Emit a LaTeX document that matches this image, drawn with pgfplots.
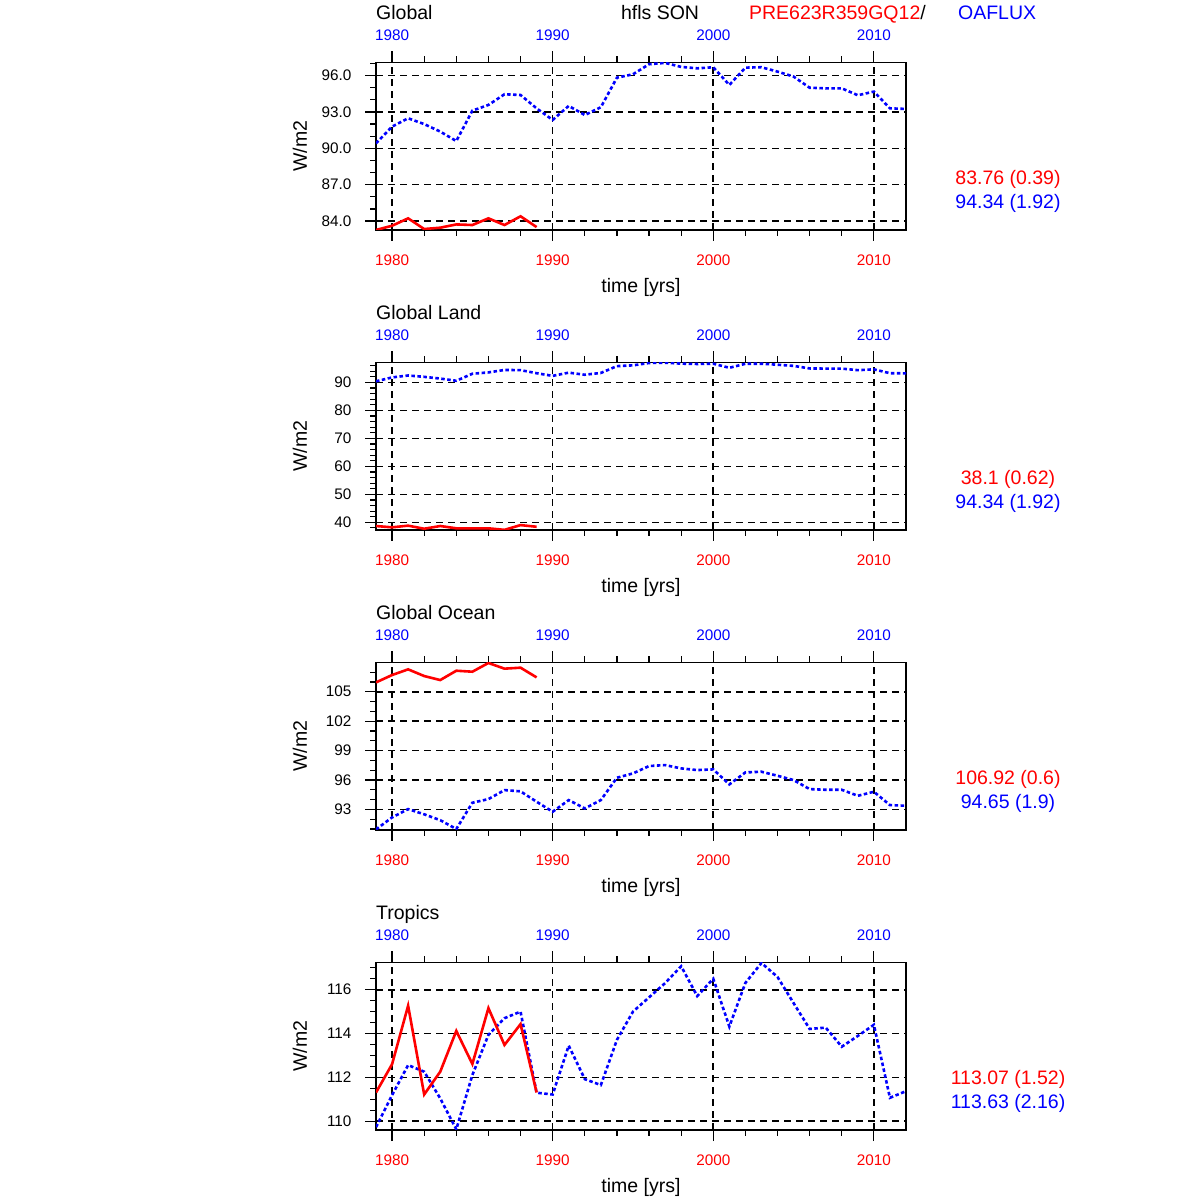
\documentclass[border=0pt]{standalone}
\usepackage{fontspec}
\setmainfont{Liberation Sans}
\usepackage{pgfplots}
\usepackage{pgfplotstable}
\pgfplotsset{compat=1.18}

% OAFLUX, global (also used for global land)
\pgfplotstableread{
yr val
1979 90.41
1980 91.79
1981 92.48
1982 92.00
1983 91.38
1984 90.60
1985 93.11
1986 93.58
1987 94.46
1988 94.40
1989 93.30
1990 92.34
1991 93.50
1992 92.75
1993 93.39
1994 95.83
1995 96.11
1996 96.94
1997 97.05
1998 96.72
1999 96.60
2000 96.69
2001 95.23
2002 96.66
2003 96.69
2004 96.33
2005 95.92
2006 95.00
2007 94.95
2008 94.95
2009 94.38
2010 94.68
2011 93.30
2012 93.25
}\oafGlobal

\pgfplotstableread{
yr val
1979 90.96
1980 92.18
1981 93.03
1982 92.50
1983 91.90
1984 91.00
1985 93.68
1986 94.05
1987 94.97
1988 94.84
1989 93.78
1990 92.76
1991 93.95
1992 93.10
1993 93.95
1994 96.23
1995 96.67
1996 97.42
1997 97.52
1998 97.18
1999 97.01
2000 97.08
2001 95.55
2002 96.77
2003 96.84
2004 96.43
2005 95.99
2006 95.07
2007 95.00
2008 95.00
2009 94.39
2010 94.80
2011 93.44
2012 93.37
}\oafOcean

\pgfplotstableread{
yr val
1979 109.73
1980 111.19
1981 112.56
1982 112.26
1983 111.04
1984 109.63
1985 112.11
1986 113.94
1987 114.70
1988 115.00
1989 111.30
1990 111.22
1991 113.45
1992 111.92
1993 111.65
1994 113.71
1995 115.00
1996 115.65
1997 116.30
1998 117.07
1999 115.71
2000 116.50
2001 114.32
2002 116.31
2003 117.22
2004 116.58
2005 115.39
2006 114.21
2007 114.27
2008 113.40
2009 113.89
2010 114.40
2011 111.07
2012 111.37
}\oafTrop

% PRE623R359GQ12
\pgfplotstableread{
yr val
1979 83.26
1980 83.61
1981 84.22
1982 83.34
1983 83.45
1984 83.72
1985 83.67
1986 84.22
1987 83.67
1988 84.39
1989 83.50
}\preGlobal

\pgfplotstableread{
yr val
1979 38.67
1980 38.20
1981 38.80
1982 37.70
1983 38.67
1984 37.85
1985 37.85
1986 37.85
1987 37.30
1988 39.00
1989 38.40
}\preLand

\pgfplotstableread{
yr val
1979 105.95
1980 106.70
1981 107.28
1982 106.60
1983 106.19
1984 107.14
1985 107.04
1986 107.93
1987 107.35
1988 107.45
1989 106.46
}\preOcean

\pgfplotstableread{
yr val
1979 111.31
1980 112.60
1981 115.27
1982 111.22
1983 112.26
1984 114.12
1985 112.61
1986 115.16
1987 113.48
1988 114.43
1989 111.31
}\preTrop

\newcommand{\bigf}{\fontsize{19.5bp}{23bp}\selectfont}
\newcommand{\smallf}{\fontsize{15.3bp}{18bp}\selectfont}

\pgfplotsset{
  panel/.style={
    scale only axis, width=530bp, height=167.7bp, anchor=south west,
    xmin=1979, xmax=2012,
    xtick={1980,1990,2000,2010},
    xticklabels={},
    tick align=outside,
    ytick pos=left,
    major tick length=11bp, minor tick length=6bp,
    yticklabel style={xshift=-10bp},
    grid=major,
    major grid style={black, line width=1.6bp, dash pattern=on 7bp off 5bp},
    axis line style={line width=1.4bp},
    every tick/.append style={black, line width=1.2bp},
    tick label style={font=\smallf},
    label style={font=\bigf},
    /pgf/number format/assume math mode=true,
    /pgf/number format/1000 sep={},
    xlabel={time [yrs]},
    ylabel={W/m2},
    xlabel style={at={(axis description cs:0.5,-0.345)}, anchor=center},
    ylabel style={at={(axis description cs:-0.1434,0.5)}, anchor=center},
    clip mode=individual,
  },
  xside/.style={
    scale only axis, width=530bp, anchor=south west,
    xmin=1979, xmax=2012, ymin=0, ymax=1,
    axis y line=none,
    axis line style={draw=none},
    tick label style={font=\smallf},
    /pgf/number format/assume math mode=true,
    /pgf/number format/1000 sep={},
  },
  % top: ticks and blue labels
  toplabels/.style={xside, height=167.7bp, axis x line*=top,
    xtick={1980,1990,2000,2010},
    minor xtick={1982,1984,1986,1988,1992,1994,1996,1998,2002,2004,2006,2008},
    tick align=outside,
    major tick length=11bp, minor tick length=6bp,
    every tick/.append style={black, line width=1.2bp},
    xticklabel style={text=blue, yshift=7bp}},
  % bottom: ticks drawn as grid lines of thin strips below the box
  botmajor/.style={xside, height=11bp, axis x line*=bottom,
    xtick={1980,1990,2000,2010}, major tick length=0pt,
    grid=major, major grid style={black, line width=1.2bp, solid},
    xticklabel style={text=red, yshift=-10bp}},
  botminor/.style={xside, height=6bp, axis x line*=bottom,
    xtick={1982,1984,1986,1988,1992,1994,1996,1998,2002,2004,2006,2008},
    xticklabels={}, major tick length=0pt,
    grid=major, major grid style={black, line width=1.2bp, solid}},
  pre/.style={red, line width=2.6bp, solid},
  oaf/.style={blue, line width=2.6bp, dash pattern=on 3.5bp off 2.5bp},
}

\begin{document}
\begin{tikzpicture}
\path[use as bounding box] (0bp,0bp) rectangle (1200bp,1200bp);

% ---- Global
\begin{axis}[panel, at={(376bp,970bp)},
  ymin=83.26, ymax=97.1,
  ytick={84,87,90,93,96},
  minor ytick={85,86,88,89,91,92,94,95,97},
  yticklabel style={/pgf/number format/.cd, fixed, fixed zerofill, precision=1}]
\addplot[oaf] table[x=yr,y=val] {\oafGlobal};
\addplot[pre] table[x=yr,y=val] {\preGlobal};
\node[anchor=base west, inner sep=0pt, font=\bigf] at (axis description cs:0,1.258) {Global};
\node[anchor=base, inner sep=0pt, font=\bigf] at (axis description cs:0.536,1.258) {hfls SON};
\node[anchor=base east, inner sep=0pt, font=\bigf] at (axis description cs:1.0377,1.258) {\textcolor{red}{PRE623R359GQ12}/};
\node[anchor=base west, inner sep=0pt, font=\bigf, text=blue] at (axis description cs:1.098,1.258) {OAFLUX};
\node[font=\bigf, text=red] at (axis description cs:1.1925,0.304) {83.76 (0.39)};
\node[font=\bigf, text=blue] at (axis description cs:1.1925,0.161) {94.34 (1.92)};
\end{axis}
\begin{axis}[toplabels, at={(376bp,970bp)}]
\end{axis}
\begin{axis}[botmajor, at={(376bp,959bp)}]
\end{axis}
\begin{axis}[botminor, at={(376bp,964bp)}]
\end{axis}

% ---- Global Land
\begin{axis}[panel, at={(376bp,670bp)},
  ymin=37.25, ymax=97.2,
  ytick={40,50,60,70,80,90},
  minor ytick={38,42,44,46,48,52,54,56,58,62,64,66,68,72,74,76,78,82,84,86,88,92,94,96}]
\addplot[oaf] table[x=yr,y=val] {\oafGlobal};
\addplot[pre] table[x=yr,y=val] {\preLand};
\node[anchor=base west, inner sep=0pt, font=\bigf] at (axis description cs:0,1.258) {Global Land};
\node[font=\bigf, text=red] at (axis description cs:1.1925,0.304) {38.1 (0.62)};
\node[font=\bigf, text=blue] at (axis description cs:1.1925,0.161) {94.34 (1.92)};
\end{axis}
\begin{axis}[toplabels, at={(376bp,670bp)}]
\end{axis}
\begin{axis}[botmajor, at={(376bp,659bp)}]
\end{axis}
\begin{axis}[botminor, at={(376bp,664bp)}]
\end{axis}

% ---- Global Ocean
\begin{axis}[panel, at={(376bp,370bp)},
  ymin=90.9, ymax=108,
  ytick={93,96,99,102,105},
  minor ytick={91,92,94,95,97,98,100,101,103,104,106,107}]
\addplot[oaf] table[x=yr,y=val] {\oafOcean};
\addplot[pre] table[x=yr,y=val] {\preOcean};
\node[anchor=base west, inner sep=0pt, font=\bigf] at (axis description cs:0,1.258) {Global Ocean};
\node[font=\bigf, text=red] at (axis description cs:1.1925,0.304) {106.92 (0.6)};
\node[font=\bigf, text=blue] at (axis description cs:1.1925,0.161) {94.65 (1.9)};
\end{axis}
\begin{axis}[toplabels, at={(376bp,370bp)}]
\end{axis}
\begin{axis}[botmajor, at={(376bp,359bp)}]
\end{axis}
\begin{axis}[botminor, at={(376bp,364bp)}]
\end{axis}

% ---- Tropics
\begin{axis}[panel, at={(376bp,70bp)},
  ymin=109.6, ymax=117.25,
  ytick={110,112,114,116},
  minor ytick={110.5,111,111.5,112.5,113,113.5,114.5,115,115.5,116.5,117}]
\addplot[oaf] table[x=yr,y=val] {\oafTrop};
\addplot[pre] table[x=yr,y=val] {\preTrop};
\node[anchor=base west, inner sep=0pt, font=\bigf] at (axis description cs:0,1.258) {Tropics};
\node[font=\bigf, text=red] at (axis description cs:1.1925,0.304) {113.07 (1.52)};
\node[font=\bigf, text=blue] at (axis description cs:1.1925,0.161) {113.63 (2.16)};
\end{axis}
\begin{axis}[toplabels, at={(376bp,70bp)}]
\end{axis}
\begin{axis}[botmajor, at={(376bp,59bp)}]
\end{axis}
\begin{axis}[botminor, at={(376bp,64bp)}]
\end{axis}
\end{tikzpicture}
\end{document}
